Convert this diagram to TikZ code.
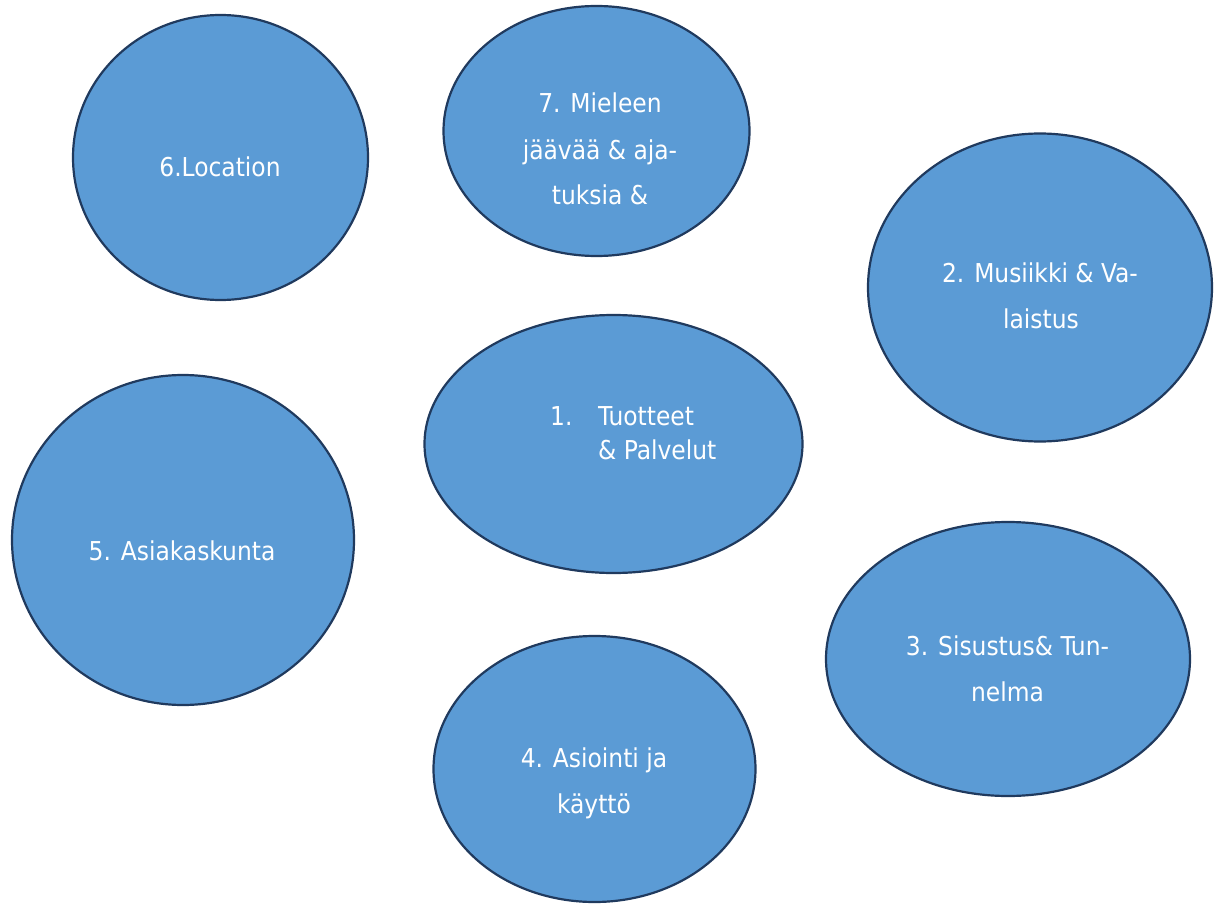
\documentclass[tikz,border=0pt]{standalone}
\usepackage{fontspec}
\setmainfont{DejaVu Sans Condensed}
\usetikzlibrary{shapes.geometric}
\definecolor{bubblefill}{HTML}{5B9BD5}
\definecolor{bubbleline}{HTML}{203A5E}
\tikzset{
  bubble/.style={ellipse, draw=bubbleline, fill=bubblefill, line width=2.2pt, inner sep=0pt},
  lbl/.style={text=white, font=\fontsize{26}{46}\selectfont, inner sep=0pt, anchor=base},
  lblw/.style={lbl, anchor=base west}
}
\begin{document}
\begin{tikzpicture}[x=1pt,y=-1pt]
\useasboundingbox (0,0) rectangle (1221,904);
\clip (0,0) rectangle (1221,904);
% ellipses
\node[bubble, minimum width=295pt, minimum height=285pt] (e6) at (220.5,157.5) {};
\node[bubble, minimum width=306pt, minimum height=250pt] (e7) at (596.5,131) {};
\node[bubble, minimum width=344pt, minimum height=308pt] (e2) at (1040,287.5) {};
\node[bubble, minimum width=378pt, minimum height=258pt] (e1) at (613.5,444) {};
\node[bubble, minimum width=342pt, minimum height=330pt] (e5) at (183,540) {};
\node[bubble, minimum width=364pt, minimum height=274pt] (e3) at (1008,659) {};
\node[bubble, minimum width=322pt, minimum height=266pt] (e4) at (594.5,769) {};
% labels
\node[lbl] (t6) at (220,177) {6.Location};
\node[lbl] (t7a) at (600,113) {7. Mieleen};
\node[lbl] (t7b) at (600,160) {jäävää \& aja-};
\node[lbl] (t7c) at (600,205) {tuksia \&};
\node[lbl] (t2a) at (1040,282) {2. Musiikki \& Va-};
\node[lbl] (t2b) at (1041,328) {laistus};
\node[lblw] (t1n) at (550,425) {1.};
\node[lblw] (t1a) at (598,425) {Tuotteet};
\node[lblw] (t1b) at (598,459) {\& Palvelut};
\node[lbl] (t5) at (182,560) {5. Asiakaskunta};
\node[lbl] (t3a) at (1007.5,655) {3. Sisustus\& Tun-};
\node[lbl] (t3b) at (1007.5,701) {nelma};
\node[lbl] (t4a) at (594,767) {4. Asiointi ja};
\node[lbl] (t4b) at (594,813) {käyttö};
\end{tikzpicture}
\end{document}
